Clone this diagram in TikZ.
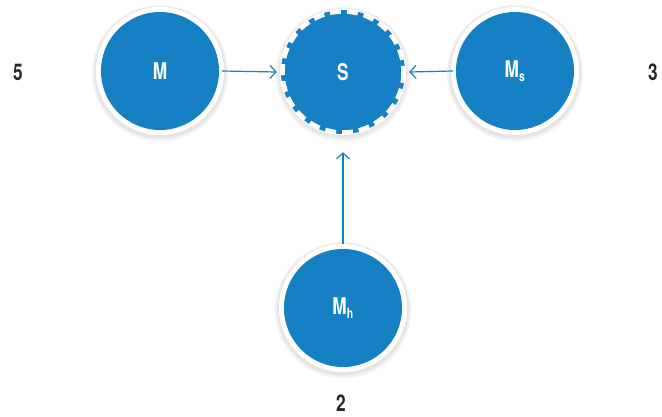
\documentclass[tikz,border=0pt]{standalone}
\usepackage{fontspec}
\setmainfont{TeX Gyre Heros}
\usetikzlibrary{arrows.meta}
\definecolor{cblue}{HTML}{1580C4}
\tikzset{
  x=1pt,y=-1pt,
  ball/.style={circle,fill=cblue,minimum size=118pt,inner sep=0pt,text=white,font=\bfseries\fontsize{23}{23}\selectfont},
  conn/.style={draw=cblue,line width=1.2pt,-{Straight Barb[length=6pt,width=13pt,line width=1.2pt]}},
  num/.style={font=\bfseries\fontsize{23}{23}\selectfont,text=black!85}
}
\newcommand{\cond}[1]{\scalebox{0.75}[1]{#1}}
\begin{document}
\begin{tikzpicture}
\useasboundingbox (0,0) rectangle (662,416);
% shadows and white rings
\foreach \cx/\cy in {160/71,515/71,343/308}{
  \fill[black!5] (\cx,\cy+2) circle (68);
  \fill[black!10] (\cx,\cy+1.5) circle (66);
  \fill[white] (\cx,\cy) circle (64);
}
\fill[black!5] (343,74) circle (67);
\fill[black!9] (343,73.5) circle (65);
\fill[white] (343,72) circle (63);
\node[ball] (m) at (160,71) {\cond{M}};
\node[ball] (ms) at (515,71) {\cond{M\textsubscript{\fontsize{14}{14}\selectfont s}}};
\node[ball] (mh) at (343,308) {\cond{M\textsubscript{\fontsize{14}{14}\selectfont h}}};
\node[ball,minimum size=124pt] (s) at (343,72) {\cond{S}};
\draw[white,line width=4.5pt,dash pattern=on 11pt off 6pt] (343,72) circle (60.5);
\node[num] (n5) at (18,72) {\cond{5}};
\node[num] (n3) at (653,72) {\cond{3}};
\node[num] (n2) at (341,403) {\cond{2}};
\draw[conn] ([xshift=3pt]m.east) -- ([xshift=-4pt]s.west);
\draw[conn] ([xshift=-3pt]ms.west) -- ([xshift=4pt]s.east);
\draw[conn] ([yshift=5pt]mh.north) -- ([yshift=-18pt]s.south);
\end{tikzpicture}
\end{document}
